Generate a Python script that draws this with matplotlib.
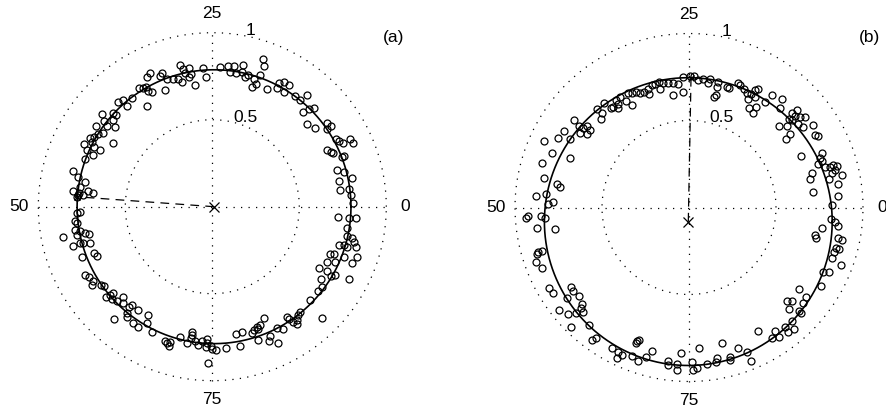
import numpy as np
import matplotlib
matplotlib.use('Agg')
from matplotlib import pyplot as plt

plt.rcParams['font.family'] = ['Liberation Sans', 'DejaVu Sans']

pts_a = [
    (-0.464, 0.623), (-0.420, 0.680), (-0.400, 0.680), (-0.381, 0.686), (-0.368, 0.667),
    (-0.349, 0.661), (-0.374, 0.579), (-0.358, 0.770), (-0.377, 0.747), (-0.291, 0.766),
    (-0.301, 0.751), (-0.259, 0.732), (-0.272, 0.670), (-0.224, 0.732), (-0.195, 0.732),
    (-0.176, 0.718), (-0.186, 0.816), (-0.170, 0.793), (-0.136, 0.797), (-0.155, 0.766),
    (-0.123, 0.762), (-0.132, 0.747), (-0.100, 0.699), (-0.052, 0.799), (-0.036, 0.743),
    (0.044, 0.801), (0.092, 0.808), (0.125, 0.810), (0.178, 0.814), (0.102, 0.774),
    (0.136, 0.770), (0.169, 0.774), (0.188, 0.747), (0.207, 0.757), (0.289, 0.849),
    (0.297, 0.810), (0.274, 0.757), (0.239, 0.732), (0.226, 0.690), (0.251, 0.705),
    (0.312, 0.674), (0.370, 0.680), (0.381, 0.709), (0.412, 0.718), (0.439, 0.699),
    (0.412, 0.659), (0.475, 0.636),
    (-0.540, 0.602), (-0.515, 0.613), (-0.489, 0.579), (-0.569, 0.540), (-0.554, 0.527),
    (-0.636, 0.533), (-0.623, 0.494), (-0.573, 0.498), (-0.670, 0.464), (-0.603, 0.464),
    (-0.559, 0.460), (-0.626, 0.421), (-0.703, 0.397), (-0.680, 0.402), (-0.655, 0.418),
    (-0.573, 0.368), (-0.738, 0.360), (-0.693, 0.374), (-0.680, 0.341), (-0.718, 0.326),
    (-0.646, 0.326), (-0.732, 0.272), (-0.688, 0.297), (-0.803, 0.205), (-0.770, 0.172),
    (-0.732, 0.144), (-0.799, 0.092), (-0.761, 0.115), (-0.764, 0.080), (-0.745, 0.067),
    (-0.713, 0.092), (-0.688, 0.077), (-0.770, 0.067), (-0.780, 0.057),
    (-0.780, -0.038), (-0.761, -0.029), (-0.789, -0.080), (-0.780, -0.096), (-0.789, -0.134),
    (-0.761, -0.138), (-0.732, -0.153), (-0.709, -0.157), (-0.776, -0.163), (-0.761, -0.207),
    (-0.741, -0.211), (-0.703, -0.207), (-0.803, -0.226), (-0.856, -0.172), (-0.678, -0.264),
    (-0.665, -0.284), (-0.747, -0.291), (-0.732, -0.391), (-0.707, -0.406), (-0.688, -0.425),
    (-0.693, -0.450), (-0.642, -0.450), (-0.623, -0.456), (-0.611, -0.521), (-0.588, -0.508),
    (-0.573, -0.498), (-0.579, -0.533), (-0.546, -0.540), (-0.511, -0.521), (-0.511, -0.552),
    (-0.565, -0.648), (-0.492, -0.613), (-0.489, -0.632), (-0.477, -0.579),
    (-0.464, -0.565), (-0.425, -0.594), (-0.368, -0.623), (-0.454, -0.670), (-0.425, -0.693),
    (-0.374, -0.670), (-0.349, -0.718), (-0.272, -0.770), (-0.262, -0.785), (-0.247, -0.801),
    (-0.243, -0.776), (-0.186, -0.751), (-0.148, -0.782), (-0.119, -0.718), (-0.119, -0.738),
    (-0.123, -0.757), (-0.100, -0.770), (-0.080, -0.795), (-0.061, -0.770), (-0.033, -0.762),
    (-0.029, -0.785), (-0.036, -0.805), (-0.010, -0.801), (-0.004, -0.820), (0.021, -0.824),
    (-0.027, -0.897), (0.079, -0.814), (0.136, -0.732), (0.169, -0.718), (0.159, -0.801),
    (0.226, -0.728), (0.239, -0.709), (0.255, -0.690), (0.274, -0.680), (0.264, -0.705),
    (0.297, -0.642), (0.264, -0.766), (0.331, -0.743), (0.328, -0.770), (0.379, -0.785),
    (0.374, -0.699), (0.408, -0.705), (0.427, -0.632), (0.443, -0.648), (0.466, -0.661),
    (0.485, -0.651), (0.494, -0.623), (0.485, -0.674),
    (0.504, 0.613), (0.542, 0.642), (0.523, 0.546), (0.557, 0.559), (0.584, 0.565),
    (0.542, 0.475), (0.590, 0.450), (0.657, 0.483), (0.680, 0.464), (0.657, 0.444),
    (0.711, 0.387), (0.730, 0.379), (0.749, 0.364), (0.791, 0.387), (0.807, 0.364),
    (0.661, 0.326), (0.682, 0.316), (0.695, 0.307), (0.743, 0.287), (0.759, 0.291),
    (0.718, 0.211), (0.757, 0.201), (0.801, 0.167), (0.730, 0.149), (0.734, 0.096),
    (0.787, 0.100), (0.795, 0.067), (0.810, 0.019),
    (0.724, -0.057), (0.787, -0.067), (0.826, -0.067), (0.776, -0.125), (0.772, -0.169),
    (0.801, -0.182), (0.814, -0.201), (0.730, -0.220), (0.757, -0.220), (0.776, -0.234),
    (0.826, -0.230), (0.676, -0.272), (0.699, -0.272), (0.657, -0.316), (0.705, -0.316),
    (0.757, -0.287), (0.801, -0.322), (0.833, -0.291), (0.615, -0.354), (0.657, -0.368),
    (0.705, -0.393), (0.680, -0.398), (0.787, -0.418), (0.623, -0.418), (0.628, -0.464),
    (0.609, -0.483), (0.561, -0.536), (0.504, -0.603), (0.628, -0.642),
]

pts_b = [
    (-0.033, 0.748), (-0.061, 0.710), (-0.090, 0.714), (-0.119, 0.717), (-0.148, 0.714),
    (-0.172, 0.721), (-0.195, 0.710), (-0.215, 0.704), (-0.167, 0.679), (-0.090, 0.647),
    (-0.033, 0.666), (-0.234, 0.679), (-0.230, 0.652), (-0.257, 0.666), (-0.282, 0.660),
    (-0.307, 0.666), (-0.330, 0.656), (-0.352, 0.656), (-0.326, 0.589), (-0.364, 0.614),
    (-0.397, 0.633), (-0.421, 0.618), (-0.410, 0.595), (-0.435, 0.580), (-0.448, 0.570),
    (-0.406, 0.570), (-0.487, 0.602), (-0.502, 0.545), (-0.531, 0.564), (-0.506, 0.507),
    (-0.659, 0.503), (-0.632, 0.468), (-0.607, 0.455), (-0.588, 0.468), (-0.569, 0.445),
    (-0.626, 0.426), (-0.588, 0.422), (-0.716, 0.442), (-0.755, 0.398), (-0.684, 0.392),
    (-0.831, 0.384), (-0.789, 0.311), (-0.684, 0.284), (-0.847, 0.254), (-0.831, 0.168),
    (-0.761, 0.135), (-0.741, 0.116), (-0.879, 0.068), (-0.822, 0.078), (-0.812, 0.020),
    (-0.780, 0.030),
    (0.006, 0.756), (0.031, 0.756), (0.054, 0.733), (0.082, 0.737), (0.107, 0.717),
    (0.121, 0.737), (0.169, 0.723), (0.159, 0.694), (0.153, 0.647), (0.146, 0.633),
    (0.216, 0.694), (0.230, 0.685), (0.280, 0.717), (0.293, 0.704), (0.318, 0.679),
    (0.331, 0.660), (0.356, 0.652), (0.379, 0.675), (0.395, 0.679), (0.379, 0.637),
    (0.341, 0.622), (0.437, 0.608), (0.475, 0.647), (0.536, 0.622), (0.523, 0.570),
    (0.345, 0.570), (0.383, 0.576), (0.370, 0.545), (0.590, 0.545), (0.619, 0.560),
    (0.609, 0.526), (0.638, 0.518), (0.667, 0.518), (0.594, 0.503), (0.575, 0.507),
    (0.657, 0.461), (0.628, 0.480), (0.561, 0.468), (0.517, 0.468), (0.580, 0.422),
    (0.556, 0.392), (0.715, 0.474), (0.724, 0.417), (0.739, 0.411), (0.644, 0.296),
    (0.766, 0.315), (0.753, 0.283), (0.766, 0.269), (0.743, 0.250), (0.782, 0.231),
    (0.810, 0.235), (0.830, 0.244), (0.849, 0.239), (0.839, 0.216), (0.820, 0.196),
    (0.877, 0.187), (0.805, 0.162), (0.705, 0.196), (0.695, 0.162), (0.854, 0.135),
    (0.715, 0.091), (0.858, 0.066), (0.820, 0.014),
    (-0.939, -0.058), (-0.923, -0.047), (-0.851, -0.047), (-0.828, -0.062), (-0.872, -0.120),
    (-0.770, -0.124), (-0.866, -0.258), (-0.847, -0.250), (-0.875, -0.269), (-0.881, -0.315),
    (-0.847, -0.350), (-0.805, -0.461), (-0.780, -0.493), (-0.678, -0.455), (-0.665, -0.480),
    (-0.632, -0.507), (-0.703, -0.518), (-0.617, -0.556), (-0.621, -0.580), (-0.607, -0.599),
    (-0.745, -0.589), (-0.697, -0.612), (-0.651, -0.608), (-0.678, -0.685), (-0.573, -0.675),
    (-0.556, -0.761), (-0.536, -0.752), (-0.441, -0.806), (-0.410, -0.828), (-0.383, -0.848),
    (-0.416, -0.863), (-0.326, -0.851), (-0.291, -0.882), (-0.249, -0.857), (-0.211, -0.823),
    (-0.301, -0.767), (-0.287, -0.760), (-0.307, -0.781), (-0.119, -0.882), (-0.119, -0.905),
    (-0.071, -0.901), (-0.071, -0.934), (-0.046, -0.838),
    (0.816, -0.066), (0.839, -0.081), (0.854, -0.104), (0.762, -0.116), (0.724, -0.158),
    (0.728, -0.173), (0.854, -0.173), (0.881, -0.187), (0.843, -0.231), (0.862, -0.239),
    (0.835, -0.258), (0.820, -0.288), (0.874, -0.330), (0.772, -0.369), (0.805, -0.369),
    (0.759, -0.449), (0.632, -0.468), (0.670, -0.512), (0.657, -0.551), (0.561, -0.535),
    (0.590, -0.535), (0.575, -0.583), (0.632, -0.595), (0.644, -0.608), (0.590, -0.652),
    (0.552, -0.685), (0.567, -0.714), (0.605, -0.698), (0.494, -0.710), (0.517, -0.742),
    (0.479, -0.748), (0.395, -0.710), (0.188, -0.781), (0.057, -0.809), (0.280, -0.805),
    (0.331, -0.828), (0.356, -0.882), (0.159, -0.863), (0.236, -0.857), (0.236, -0.876),
    (0.102, -0.901), (0.153, -0.890), (0.019, -0.886), (0.025, -0.934), (0.044, -0.924),
]

# fitted circles: centre, radius and the phase (period 100) of the marked point
centre_a = (0.01, 0.0)
radius_a = 0.787
phase_a = 48.85
centre_b = (-0.004, -0.081)
radius_b = 0.827
phase_b = 24.7

angle_ticks = [0, 25, 50, 75]
rho_ticks = [0.5, 1]
panel_labels = ['(a)', '(b)']

W, H = 887, 409
S = 174.0   # pixels per unit radius
L = 1.17
FS = 12.5
dots = (0, (1, 5))


def make_axes(fig, cx, cy):
    ax = fig.add_axes([(cx - L * S) / W, (H - cy - L * S) / H, 2 * L * S / W, 2 * L * S / H])
    ax.set_xlim(-L, L)
    ax.set_ylim(-L, L)
    ax.axis('off')
    return ax


def draw_panel(ax, pts, centre, radius, phase, label):
    t = np.linspace(0, 2 * np.pi, 500)
    for r in rho_ticks:
        ax.plot(r * np.cos(t), r * np.sin(t), color='k', lw=0.9, ls=dots)
    ax.plot([-1, 1], [0, 0], color='k', lw=0.9, ls=dots)
    ax.plot([0, 0], [-1, 1], color='k', lw=0.9, ls=dots)
    for a in angle_ticks:
        ang = 2 * np.pi * a / 100
        ax.text(1.11 * np.cos(ang), 1.11 * np.sin(ang), str(a), ha='center', va='center', fontsize=FS)
    c82, s82 = np.cos(np.radians(82)), np.sin(np.radians(82))
    for r in rho_ticks:
        ax.text(r * c82 + 0.05, r * s82 + 0.02, str(r), ha='left', va='center', fontsize=FS)

    p = np.array(pts)
    ax.plot(p[:, 0], p[:, 1], 'o', mfc='none', mec='k', ms=5, mew=0.9)

    cx, cy = centre
    ax.plot(cx + radius * np.cos(t), cy + radius * np.sin(t), 'k-', lw=1.2)
    ax.plot(cx, cy, 'kx', ms=6.5, mew=0.9)
    ang = 2 * np.pi * phase / 100
    ex, ey = cx + radius * np.cos(ang), cy + radius * np.sin(ang)
    ax.plot([cx, ex], [cy, ey], color='k', lw=0.9, ls=(0, (7, 5)))
    ax.plot(ex, ey, 'kx', ms=5, mew=0.9)
    ax.text(1.04, 0.975, label, ha='center', va='center', fontsize=FS)


fig = plt.figure(figsize=(W / 100, H / 100), dpi=100)
ax1 = make_axes(fig, 212.3, 206.7)
draw_panel(ax1, pts_a, centre_a, radius_a, phase_a, panel_labels[0])
ax2 = make_axes(fig, 689.0, 207.5)
draw_panel(ax2, pts_b, centre_b, radius_b, phase_b, panel_labels[1])

fig.savefig('out.png', dpi=100)
